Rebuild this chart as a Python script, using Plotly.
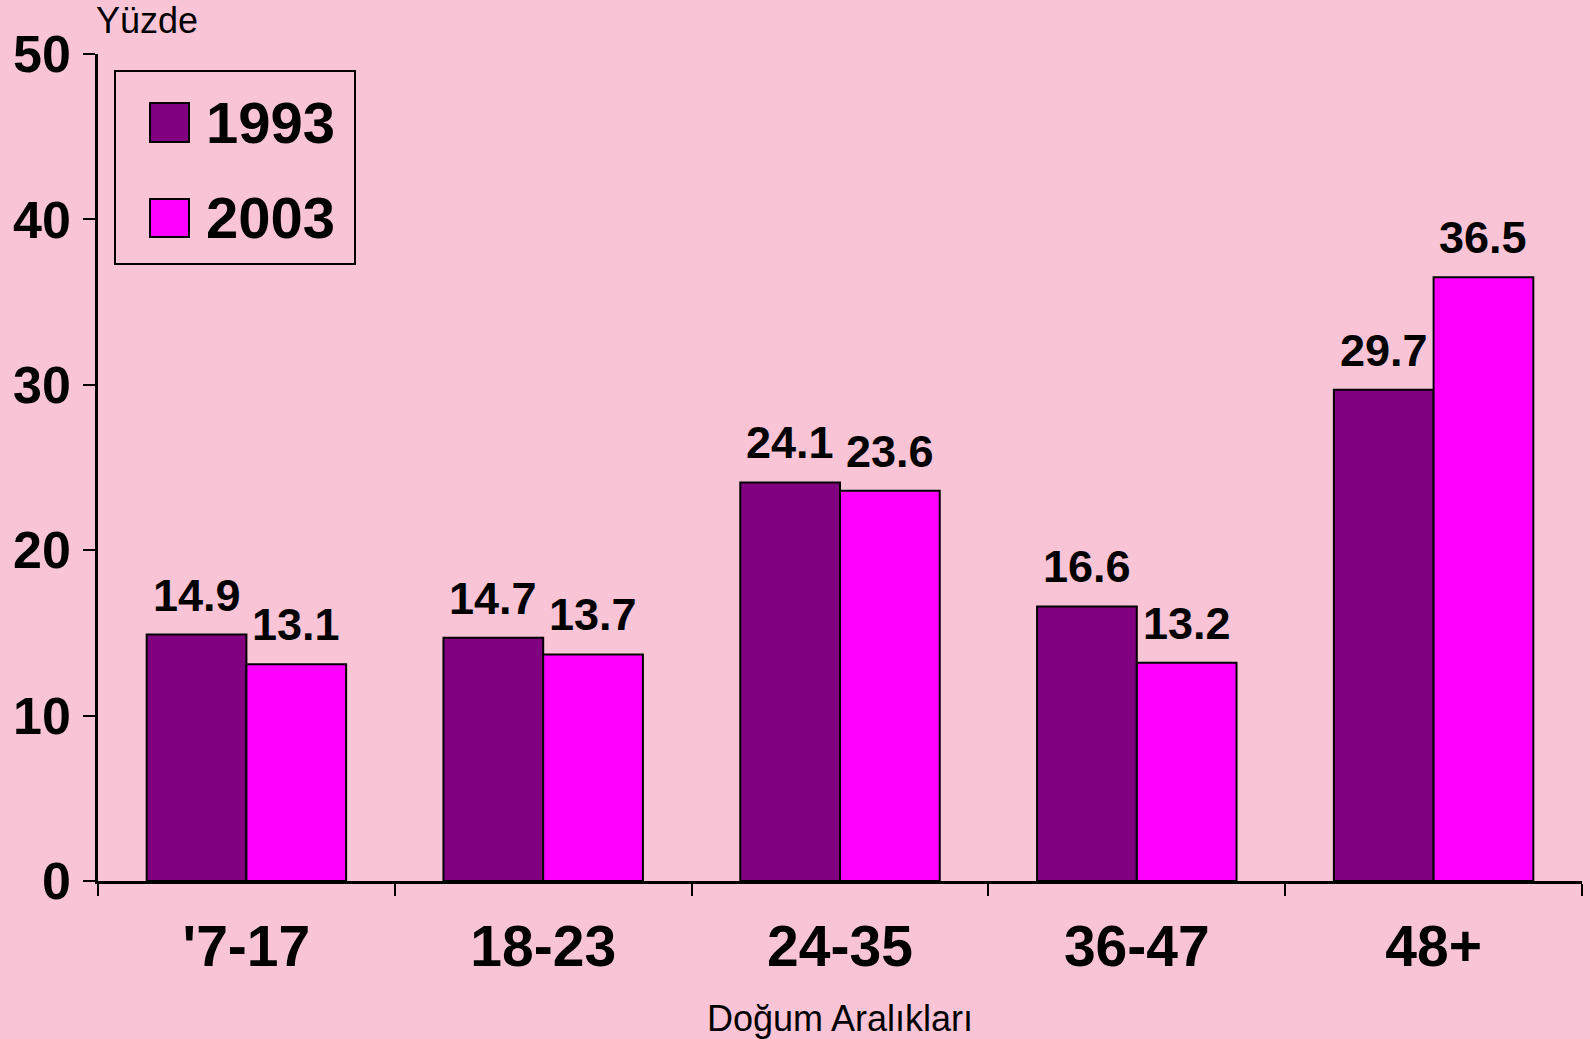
import plotly.graph_objects as go

categories = ["'7-17", "18-23", "24-35", "36-47", "48+"]
series_names = ["1993", "2003"]
values_1993 = [14.9, 14.7, 24.1, 16.6, 29.7]
values_2003 = [13.1, 13.7, 23.6, 13.2, 36.5]
y_ticks = [0, 10, 20, 30, 40, 50]
y_title = "Yüzde"
x_title = "Doğum Aralıkları"

colors = ["#800080", "#FF00FF"]
FONT = "Liberation Sans, Arial, sans-serif"
BG = "#F9C4D6"

W, H = 1590, 1039
L, R, T, B = 98, 8, 54, 158
PW, PH = W - L - R, H - T - B
BARGAP = 0.328
bar_px = PW / len(categories) * (1 - BARGAP) / 2


def px(x):
    return (x - L) / PW


def py(y):
    return (T + PH - y) / PH


fig = go.Figure()
annotations = []
for i, (name, vals, col) in enumerate(zip(series_names, [values_1993, values_2003], colors)):
    fig.add_trace(go.Bar(
        x=categories, y=vals, name=name,
        marker=dict(color=col, line=dict(color="black", width=2)),
        showlegend=False,
    ))
    shift = (i - 0.5) * bar_px
    for c, v in zip(categories, vals):
        annotations.append(dict(
            x=c, y=v, xref="x", yref="y", xshift=shift, yshift=12,
            xanchor="center", yanchor="bottom", showarrow=False, text=f"{v:.1f}",
            font=dict(family=FONT, size=45, color="black", weight="bold")))

shapes = [
    dict(type="rect", xref="paper", yref="paper",
         x0=px(115), x1=px(355), y0=py(264), y1=py(71),
         line=dict(color="black", width=2), fillcolor="rgba(0,0,0,0)"),
]
legend_rows = [(103, 142), (199, 237)]
for (y0, y1), name, col in zip(legend_rows, series_names, colors):
    shapes.append(dict(type="rect", xref="paper", yref="paper",
                       x0=px(150), x1=px(189), y0=py(y1), y1=py(y0),
                       line=dict(color="black", width=2), fillcolor=col))
    annotations.append(dict(xref="paper", yref="paper", x=px(204), y=py((y0 + y1) / 2),
                            xanchor="left", yanchor="middle", showarrow=False, text=name,
                            font=dict(family=FONT, size=58, color="black", weight="bold")))

annotations.append(dict(xref="paper", yref="paper", x=px(94), y=py(21),
                        xanchor="left", yanchor="middle", showarrow=False, text=y_title,
                        font=dict(family=FONT, size=36, color="black")))
annotations.append(dict(xref="paper", yref="paper", x=0.5, y=py(1018),
                        xanchor="center", yanchor="middle", showarrow=False, text=x_title,
                        font=dict(family=FONT, size=36, color="black")))

fig.update_layout(
    width=W, height=H,
    margin=dict(l=L, r=R, t=T, b=B),
    paper_bgcolor=BG, plot_bgcolor=BG,
    barmode="group", bargap=BARGAP, bargroupgap=0,
    shapes=shapes, annotations=annotations,
    font=dict(family=FONT, color="black"),
)
fig.update_xaxes(
    type="category", showline=True, linecolor="black", linewidth=2.5,
    ticks="outside", tickson="boundaries", ticklen=12, tickwidth=2, tickcolor="black",
    tickfont=dict(family=FONT, size=57, color="black", weight="bold"),
    ticklabelstandoff=14, showgrid=False, zeroline=False,
)
fig.update_yaxes(
    range=[0, 50], tickvals=y_ticks, showline=True, linecolor="black", linewidth=2.5,
    ticks="outside", ticklen=12, tickwidth=2, tickcolor="black",
    tickfont=dict(family=FONT, size=52, color="black", weight="bold"),
    ticklabelstandoff=2, showgrid=False, zeroline=False,
)

fig.write_html(
    "out.html",
    config={"displayModeBar": False},
    post_script="document.body.style.margin='0';document.body.style.background='%s';" % BG,
)
